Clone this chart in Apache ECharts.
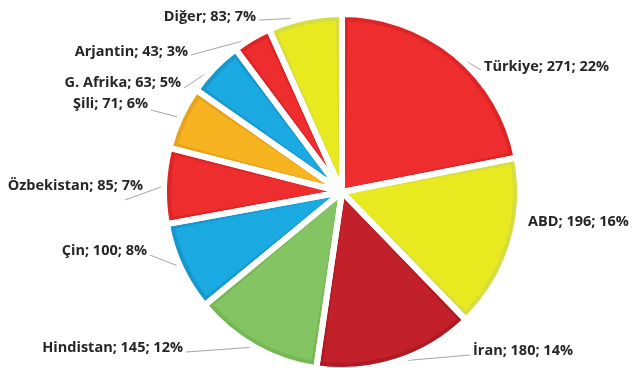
<!DOCTYPE html>
<html>
<head>
<meta charset="utf-8">
<script src="https://cdn.jsdelivr.net/npm/echarts@6/dist/echarts.min.js"></script>
<style>
  html, body { margin: 0; padding: 0; background: #ffffff; }
  #chart { width: 632px; height: 368px; }
</style>
</head>
<body>
<div id="chart"></div>
<script>
// Countries, in clockwise order from the top
const names = ['Türkiye', 'ABD', 'İran', 'Hindistan', 'Çin', 'Özbekistan', 'Şili', 'G. Afrika', 'Arjantin', 'Diğer'];
const values = [271, 196, 180, 145, 100, 85, 71, 63, 43, 83];
const percents = [22, 16, 14, 12, 8, 7, 6, 5, 3, 7];

// Fill and rim shade per slice
const fills = ['#ee2d2e', '#e9e91f', '#c2202a', '#84c462', '#1ba9e1', '#ee2d2e', '#f8b420', '#1ba9e1', '#ee2d2e', '#e9e91f'];
const edges = ['#df2426', '#d6dd40', '#b01b23', '#77b856', '#1698ce', '#df2426', '#e7a41b', '#1698ce', '#df2426', '#d6dd40'];

// Where each label sits (text anchor, alignment) and where its leader line ends
const labelSpots = [
  { x: 484, y: 67, align: 'left', end: [481, 70] },
  { x: 528, y: 222, align: 'left', end: null },
  { x: 473, y: 351, align: 'left', end: [470, 355] },
  { x: 183, y: 348, align: 'right', end: [186, 352] },
  { x: 147, y: 251, align: 'right', end: [150, 255] },
  { x: 143, y: 186, align: 'right', end: [125, 200] },
  { x: 148, y: 104, align: 'right', end: [151, 110] },
  { x: 181, y: 83, align: 'right', end: [184, 88] },
  { x: 188, y: 52, align: 'right', end: [191, 55] },
  { x: 256, y: 17, align: 'right', end: [259, 20] }
];

const CENTER = [342, 192];
const R = 178;
const GAP = 6;

const common = {
  type: 'pie',
  center: CENTER,
  startAngle: 90,
  clockwise: true,
  avoidLabelOverlap: false,
  emphasis: { disabled: true },
  silent: true
};

// Rim colour underneath
const baseData = names.map((n, i) => ({ name: n, value: values[i], itemStyle: { color: edges[i] } }));
// Main fills, slightly inset so the rim shows round each slice
const fillData = names.map((n, i) => ({
  name: n, value: values[i],
  itemStyle: { color: fills[i], borderColor: edges[i], borderWidth: GAP, borderJoin: 'round' }
}));
// White separators, with the labels on top
const outlineData = names.map((n, i) => ({
  name: n, value: values[i], pct: percents[i],
  labelLine: { show: labelSpots[i].end !== null }
}));

const chart = echarts.init(document.getElementById('chart'), null, { renderer: 'canvas' });
chart.setOption({
  animation: false,
  backgroundColor: '#ffffff',
  series: [
    Object.assign({}, common, {
      radius: [0, R], data: baseData,
      label: { show: false }, labelLine: { show: false }, z: 1
    }),
    Object.assign({}, common, {
      radius: [0, R - 4], padAngle: 2, data: fillData,
      label: { show: false }, labelLine: { show: false }, z: 2
    }),
    Object.assign({}, common, {
      radius: [0, R], data: outlineData, z: 3,
      itemStyle: { color: 'rgba(0,0,0,0)', borderColor: '#ffffff', borderWidth: GAP, borderJoin: 'round' },
      label: {
        show: true,
        position: 'outside',
        fontFamily: 'Open Sans',
        fontWeight: 'bold',
        fontSize: 14.5,
        color: '#262626',
        formatter: p => p.name + '; ' + p.value + '; ' + p.data.pct + '%'
      },
      labelLine: {
        show: true,
        length: 10,
        length2: 10,
        lineStyle: { color: '#a6a6a6', width: 1 }
      },
      labelLayout: params => {
        const s = labelSpots[params.dataIndex];
        const out = { x: s.x, y: s.y, align: s.align, verticalAlign: 'middle' };
        if (s.end && params.labelLinePoints) {
          const a = params.labelLinePoints[0];
          out.labelLinePoints = [a, s.end, s.end];
        }
        return out;
      }
    })
  ]
});
</script>
</body>
</html>
